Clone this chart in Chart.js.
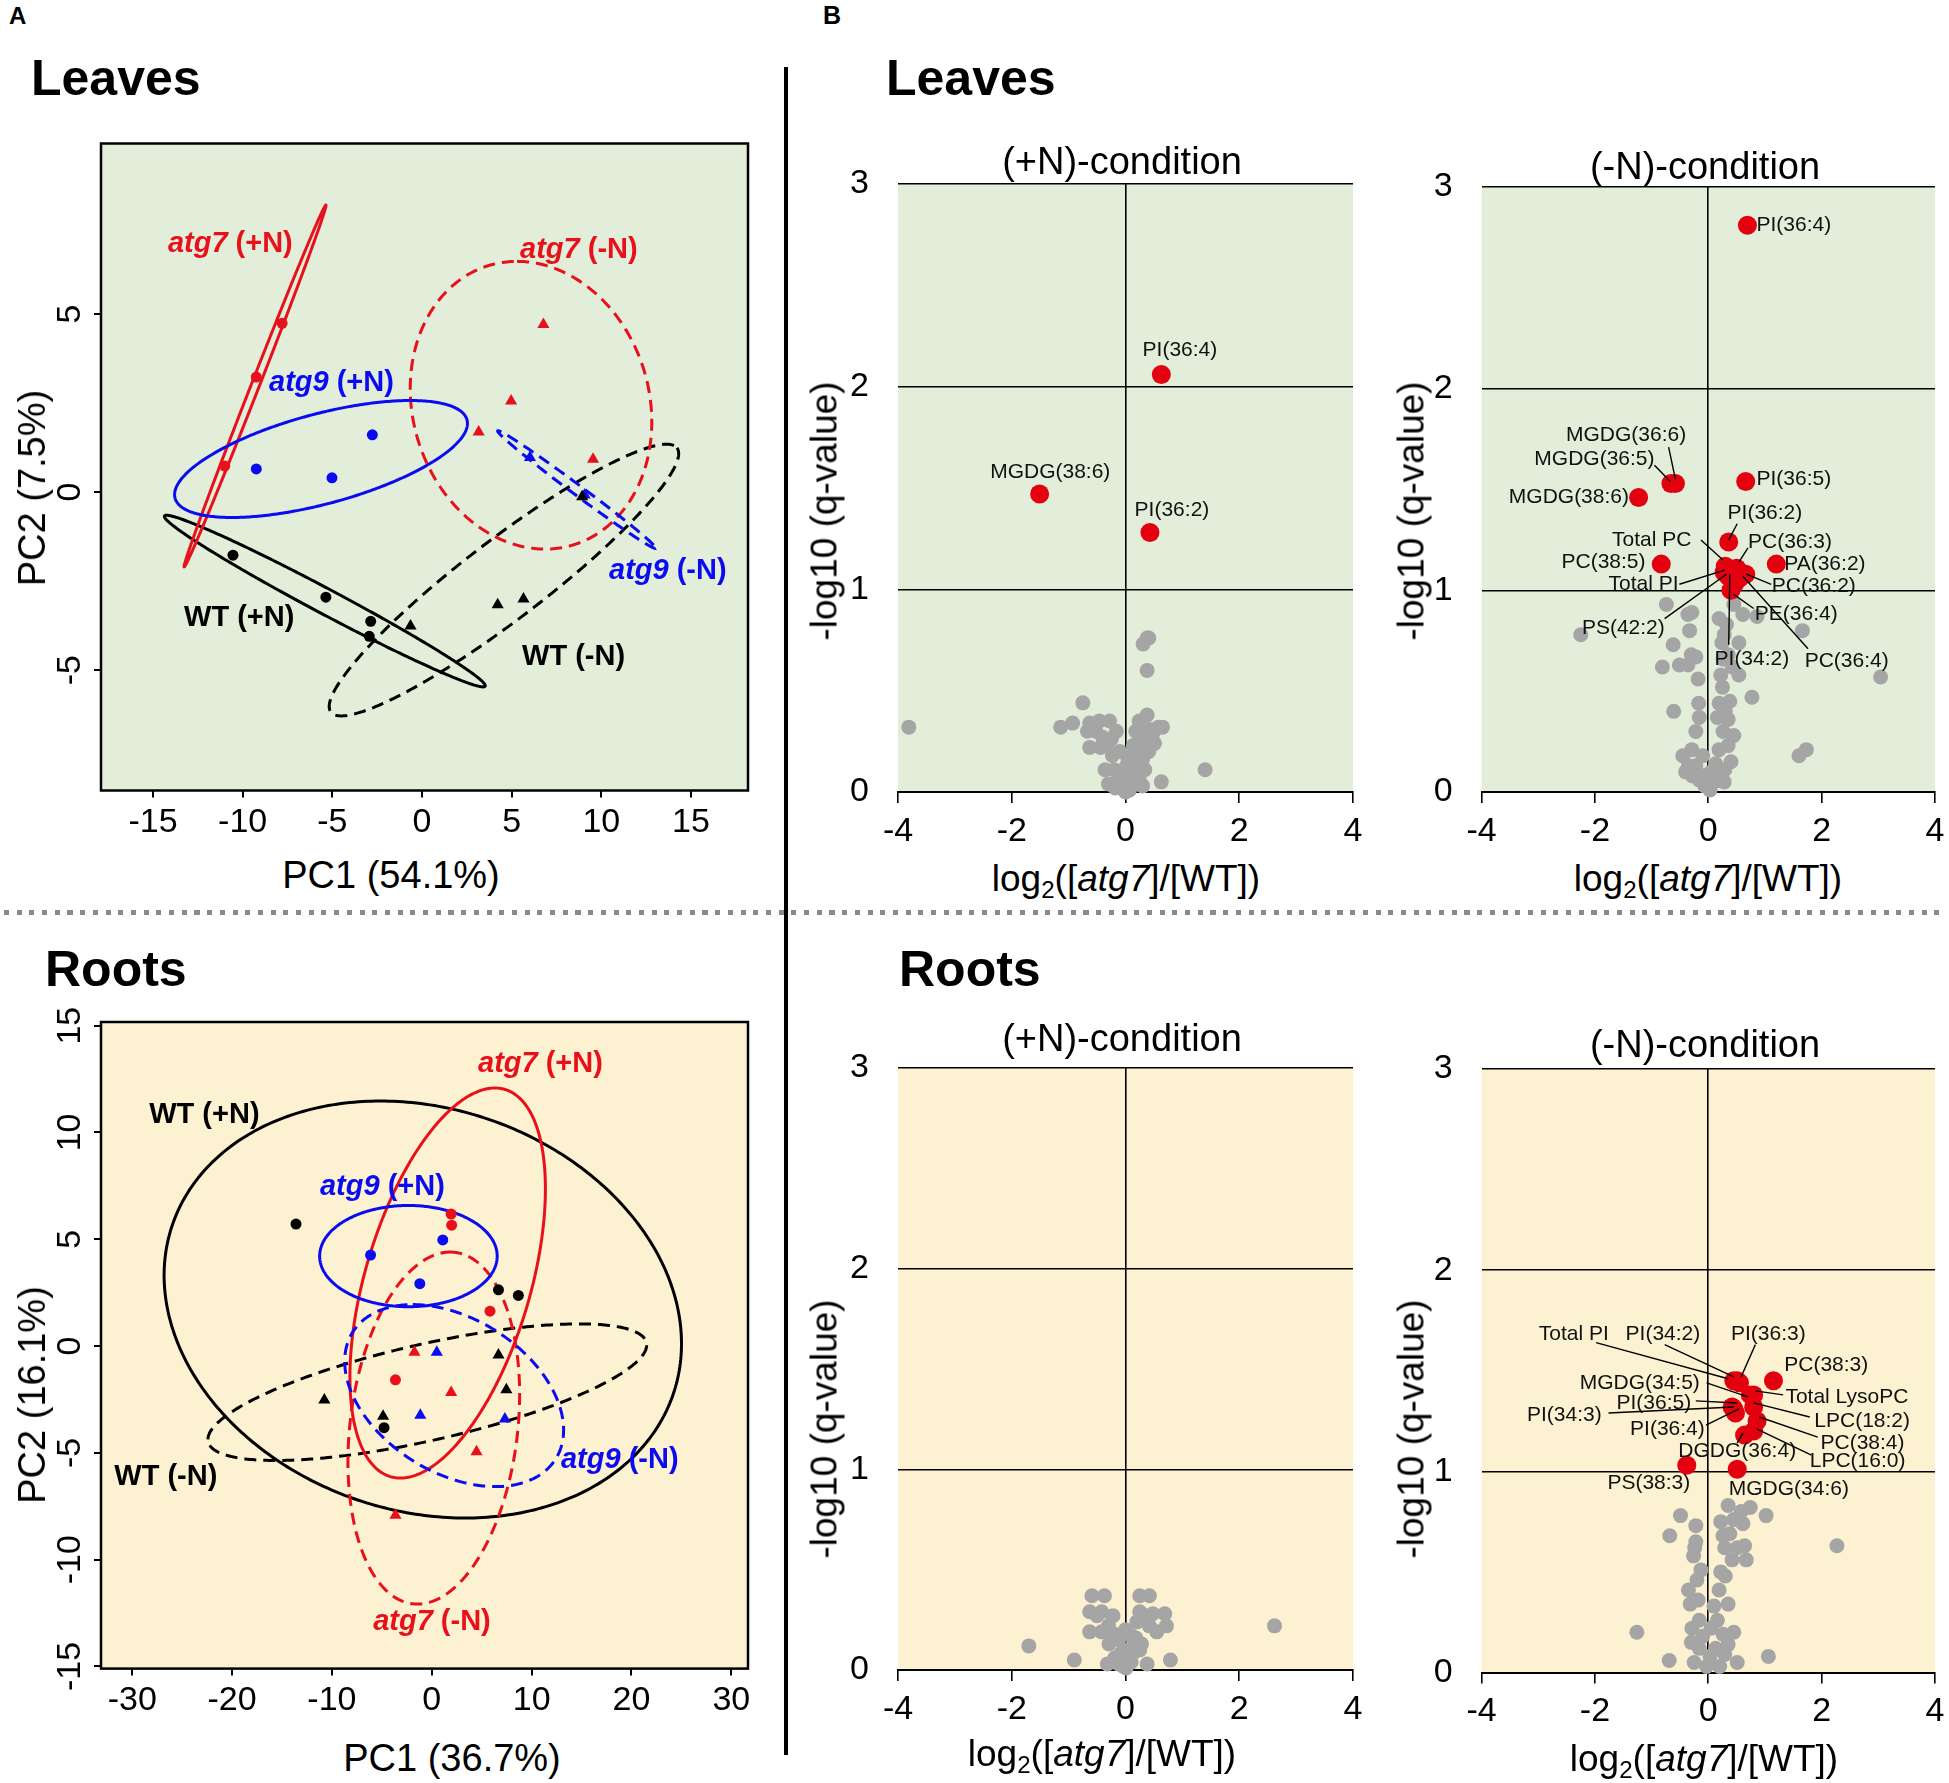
<!DOCTYPE html>
<html lang="en">
<head>
<meta charset="UTF-8">
<title>Lipid PCA and volcano plots - atg7 / atg9 / WT</title>
<script src="https://cdn.jsdelivr.net/npm/chart.js"></script>
<style>
    body { margin: 0; background: #fff; color: #000; font-family: "Liberation Sans", Arial, Helvetica, sans-serif; }
    #page { position: relative; width: 1949px; height: 1783px; overflow: hidden; background: #fff; }
    canvas { position: absolute; }
    .t { position: absolute; white-space: nowrap; line-height: 1; }
    .c { transform: translate(-50%, -50%); }
    .l { transform: translateY(-50%); }
    .r { transform: translate(-50%, -50%) rotate(-90deg); }
    .b { font-weight: bold; }
    .sep { position: absolute; left: 4px; top: 910px; width: 1938px; height: 5px;
           background: repeating-linear-gradient(to right, #8a8a8a 0 5px, transparent 5px 12.7px); }
    .vl { position: absolute; left: 784px; top: 67px; width: 3.5px; height: 1688px; background: #000; }
    .sub { font-size: 0.65em; position: relative; top: 0.3em; }
</style>
</head>
<body>
<div id="page">
    <canvas id="leafPca" width="780" height="730" style="left:0px;top:120px"></canvas>
    <canvas id="rootPca" width="780" height="730" style="left:0px;top:990px"></canvas>
    <canvas id="leafPlus" width="590" height="700" style="left:790px;top:150px"></canvas>
    <canvas id="leafMinus" width="567" height="700" style="left:1382px;top:150px"></canvas>
    <canvas id="rootPlus" width="590" height="700" style="left:790px;top:1040px"></canvas>
    <canvas id="rootMinus" width="567" height="700" style="left:1382px;top:1040px"></canvas>

    <div class="sep"></div>
    <div class="vl"></div>

    <div class="t l b" style="left:9px;top:16px;font-size:24px">A</div>
    <div class="t l b" style="left:823px;top:15px;font-size:25px">B</div>
    <div class="t l b" style="left:31px;top:78px;font-size:50px">Leaves</div>
    <div class="t l b" style="left:886px;top:78px;font-size:50px">Leaves</div>
    <div class="t l b" style="left:45px;top:969px;font-size:50px">Roots</div>
    <div class="t l b" style="left:899px;top:969px;font-size:50px">Roots</div>

    <div class="t c" style="left:391px;top:875px;font-size:38px">PC1 (54.1%)</div>
    <div class="t r" style="left:32px;top:488px;font-size:38px">PC2 (7.5%)</div>
    <div class="t c" style="left:452px;top:1758px;font-size:38px">PC1 (36.7%)</div>
    <div class="t r" style="left:32px;top:1395px;font-size:38px">PC2 (16.1%)</div>

    <div class="t c" style="left:1122px;top:161px;font-size:38px">(+N)-condition</div>
    <div class="t c" style="left:1705px;top:166px;font-size:38px">(-N)-condition</div>
    <div class="t c" style="left:1122px;top:1038px;font-size:38px">(+N)-condition</div>
    <div class="t c" style="left:1705px;top:1044px;font-size:38px">(-N)-condition</div>

    <div class="t r" style="left:824px;top:511px;font-size:37px">-log10 (q-value)</div>
    <div class="t r" style="left:1411px;top:511px;font-size:37px">-log10 (q-value)</div>
    <div class="t r" style="left:824px;top:1429px;font-size:37px">-log10 (q-value)</div>
    <div class="t r" style="left:1411px;top:1429px;font-size:37px">-log10 (q-value)</div>

    <div class="t c" style="left:1126px;top:878px;font-size:37px">log<span class="sub">2</span>([<i>atg7</i>]/[WT])</div>
    <div class="t c" style="left:1708px;top:878px;font-size:37px">log<span class="sub">2</span>([<i>atg7</i>]/[WT])</div>
    <div class="t c" style="left:1102px;top:1753px;font-size:37px">log<span class="sub">2</span>([<i>atg7</i>]/[WT])</div>
    <div class="t c" style="left:1704px;top:1758px;font-size:37px">log<span class="sub">2</span>([<i>atg7</i>]/[WT])</div>
</div>

<script>
    const FONT = '"Liberation Sans", Arial, Helvetica, sans-serif';

    // ---- PCA groups (order used by every PCA array below)
    const pcaGroups = ['WT (+N)', 'WT (-N)', 'atg7 (+N)', 'atg7 (-N)', 'atg9 (+N)', 'atg9 (-N)'];

    // Leaves PCA scores [PC1, PC2]
    const leafWTplus = [[-10.54, -1.77], [-5.36, -2.95], [-2.86, -3.63], [-2.94, -4.05]];
    const leafWTminus = [[-0.64, -3.76], [4.22, -3.16], [5.66, -3.0], [8.93, -0.13]];
    const leafAtg7plus = [[-11.0, 0.73], [-9.24, 3.23], [-7.8, 4.74]];
    const leafAtg7minus = [[6.77, 4.71], [4.97, 2.56], [3.16, 1.69], [9.54, 0.92]];
    const leafAtg9plus = [[-9.24, 0.65], [-5.02, 0.40], [-2.77, 1.61]];
    const leafAtg9minus = [[6.02, 0.97], [9.07, -0.08]];
    // confidence ellipses: [centre x, centre y, axis1 x, axis1 y, axis2 x, axis2 y]
    const leafEllipses = [
        [-5.42, -3.06, 8.94, -2.39, -0.33, -0.31],
        [4.57, -2.47, 9.65, 3.71, 1.35, -0.89],
        [-9.31, 2.98, 3.95, 5.08, 0.21, -0.04],
        [6.08, 2.44, -0.78, 4.04, 6.69, 0],
        [-5.63, 0.93, 8.14, 1.10, 0.65, -1.22],
        [8.63, 0.07, 4.41, -1.65, -0.17, -0.11]
    ];
    const leafXTicks = [-15, -10, -5, 0, 5, 10, 15];
    const leafYTicks = [-5, 0, 5];

    // Roots PCA scores [PC1, PC2]
    const rootWTplus = [[-13.6, 5.71], [6.68, 2.63], [8.67, 2.37], [-4.78, -3.82]];
    const rootWTminus = [[-10.76, -2.53], [-4.88, -3.29], [6.68, -0.42], [7.47, -2.05]];
    const rootAtg7plus = [[1.94, 6.18], [1.99, 5.66], [5.83, 1.63], [-3.64, -1.58]];
    const rootAtg7minus = [[-1.74, -0.29], [1.94, -2.18], [4.48, -4.95], [-3.64, -7.92]];
    const rootAtg9plus = [[-6.13, 4.26], [1.10, 4.97], [-1.20, 2.92]];
    const rootAtg9minus = [[0.5, -0.29], [-1.15, -3.24], [7.32, -3.42]];
    const rootEllipses = [
        [-0.90, 1.71, -4.24, 9.76, 25.56, 0],
        [-0.45, -2.16, -21.97, -2.21, 0, 2.31],
        [1.59, 2.95, 4.73, 9.13, 8.57, 0],
        [0.20, -3.84, 1.64, 8.24, 8.44, 0],
        [-2.34, 4.21, 0, 2.37, 8.89, 0],
        [2.24, -2.32, -4.14, 4.26, 10.15, 0]
    ];
    const rootXTicks = [-30, -20, -10, 0, 10, 20, 30];
    const rootYTicks = [-15, -10, -5, 0, 5, 10, 15];

    // ---- Volcano plots: x = log2(atg7/WT), y = -log10(q)
    const volXTicks = [-4, -2, 0, 2, 4];
    const volYTicks = [0, 1, 2, 3];

    const leafPlusHitNames = ['PI(36:4)', 'MGDG(38:6)', 'PI(36:2)'];
    const leafPlusHitX = [0.63, -1.51, 0.43];
    const leafPlusHitY = [2.06, 1.47, 1.28];
    const leafPlusGray = [[-3.81, 0.32], [-0.75, 0.44], [-1.14, 0.32], [-0.93, 0.34], [-0.63, 0.34], [-0.46, 0.35],
        [-0.28, 0.35], [-0.67, 0.30], [-0.16, 0.30], [-0.63, 0.22], [-0.33, 0.23], [-0.23, 0.18], [-0.36, 0.11],
        [-0.20, 0.11], [-0.30, 0.04], [-0.13, 0.06], [0, 0], [-0.03, 0.03], [0.38, 0.76], [0.41, 0.76], [0.31, 0.73],
        [0.38, 0.60], [0.38, 0.38], [0.24, 0.35], [0.41, 0.31], [0.58, 0.32], [0.65, 0.32], [0.34, 0.25], [0.51, 0.24],
        [0.24, 0.20], [0.41, 0.20], [0.21, 0.13], [0.34, 0.11], [0.14, 0.06], [0.24, 0.06], [1.40, 0.11], [0.63, 0.05],
        [0.07, 0.01], [0.11, 0.08], [0.04, 0.17], [0.14, 0.23], [-0.08, 0.10], [0.02, 0.13], [0.28, 0.28],
        [-0.40, 0.27], [-0.05, 0.05], [-0.52, 0.30], [-0.44, 0.22], [-0.25, 0.26], [-0.10, 0.20], [0.18, 0.30],
        [0.30, 0.16], [0.47, 0.28], [0.10, 0.03], [-0.18, 0.02], [0.30, 0.03]];

    const leafMinusHitNames = ['PI(36:4)', 'MGDG(36:6)', 'MGDG(36:5)', 'MGDG(38:6)', 'PI(36:5)', 'PI(36:2)',
        'Total PC', 'PC(36:3)', 'PC(38:5)', 'PA(36:2)', 'Total PI', 'PC(36:2)', 'PE(36:4)', 'PS(42:2)',
        'PI(34:2)', 'PC(36:4)'];
    const leafMinusHitX = [0.69, -0.58, -0.66, -1.23, 0.66, 0.36, 0.30, 0.50, -0.83, 1.20, 0.28, 0.66, 0.46, 0.35, 0.40, 0.55];
    const leafMinusHitY = [2.81, 1.53, 1.53, 1.46, 1.54, 1.24, 1.12, 1.11, 1.13, 1.13, 1.09, 1.08, 1.03, 1.07, 1.00, 1.06];
    const leafMinusGray = [[-2.25, 0.78], [-0.74, 0.93], [-0.36, 0.88], [-0.29, 0.89], [-0.33, 0.80], [-0.62, 0.73],
        [-0.30, 0.68], [-0.22, 0.67], [-0.81, 0.62], [-0.51, 0.63], [-0.36, 0.63], [-0.18, 0.56], [-0.61, 0.40],
        [-0.17, 0.44], [-0.16, 0.37], [-0.22, 0.30], [-0.29, 0.21], [-0.35, 0.13], [-0.22, 0.13], [-0.16, 0.06],
        [-0.06, 0.03], [0.19, 0.86], [0.28, 0.78], [0.24, 0.74], [0.35, 0.68], [0.26, 0.66], [0.54, 0.74], [0.61, 0.88],
        [0.86, 0.87], [0.54, 0.58], [0.22, 0.58], [0.77, 0.47], [0.19, 0.44], [0.38, 0.45], [0.16, 0.37], [0.35, 0.36],
        [0.26, 0.30], [0.35, 0.23], [0.19, 0.21], [0.13, 0.14], [0.29, 0.11], [0.19, 0.07], [0.03, 0.01], [1.60, 0.18],
        [1.73, 0.21], [3.04, 0.57], [1.66, 0.80], [-0.10, 0.18], [0.05, 0.10], [-0.45, 0.18], [0.40, 0.15], [0.45, 0.93],
        [-0.40, 0.10], [-0.28, 0.08], [0.10, 0.05], [0.28, 0.05], [-0.08, 0.08], [0.45, 0.28], [0.30, 0.40],
        [0.25, 0.52], [0.42, 0.62], [0.32, 0.83]];

    const rootPlusHitNames = [];
    const rootPlusHitX = [];
    const rootPlusHitY = [];
    const rootPlusGray = [[-1.70, 0.12], [-0.90, 0.05], [-0.59, 0.37], [-0.37, 0.37], [-0.63, 0.29], [-0.42, 0.29],
        [-0.22, 0.27], [-0.63, 0.19], [-0.42, 0.19], [-0.29, 0.13], [-0.19, 0.06], [-0.32, 0.03], [-0.09, 0.08],
        [0.25, 0.37], [0.42, 0.37], [0.25, 0.29], [0.69, 0.28], [0.42, 0.22], [0.72, 0.22], [0.55, 0.19], [0.11, 0.17],
        [0.28, 0.13], [0.15, 0.09], [0.25, 0.10], [0.38, 0.03], [0.79, 0.05], [2.62, 0.22], [0.01, 0.01], [-0.02, 0.05],
        [0.05, 0.10], [-0.12, 0.15], [0.0, 0.20], [0.20, 0.24], [-0.05, 0.02], [-0.50, 0.27], [-0.30, 0.22],
        [-0.20, 0.18], [0.35, 0.27], [0.48, 0.28], [0.10, 0.04], [-0.12, 0.03], [0.18, 0.16]];

    const rootMinusHitNames = ['Total PI', 'PI(34:2)', 'PI(36:3)', 'PC(38:3)', 'MGDG(34:5)', 'Total LysoPC',
        'PI(36:5)', 'PI(34:3)', 'LPC(18:2)', 'PI(36:4)', 'PC(38:4)', 'DGDG(36:4)', 'LPC(16:0)', 'PS(38:3)', 'MGDG(34:6)'];
    const rootMinusHitX = [0.45, 0.51, 0.55, 1.15, 0.74, 0.80, 0.42, 0.45, 0.80, 0.48, 0.86, 0.64, 0.80, -0.38, 0.51];
    const rootMinusHitY = [1.45, 1.45, 1.44, 1.45, 1.38, 1.38, 1.32, 1.31, 1.32, 1.29, 1.25, 1.18, 1.20, 1.03, 1.01];
    const rootMinusGray = [[-0.49, 0.78], [-0.22, 0.73], [-0.22, 0.65], [-0.68, 0.68], [0.35, 0.83], [0.58, 0.80],
        [0.74, 0.82], [1.02, 0.78], [0.22, 0.75], [0.45, 0.76], [0.61, 0.74], [0.26, 0.68], [0.38, 0.69], [0.29, 0.62],
        [0.51, 0.62], [0.64, 0.63], [0.67, 0.56], [-0.26, 0.58], [-0.13, 0.51], [0.22, 0.50], [0.19, 0.41], [0.35, 0.34],
        [-0.35, 0.41], [-0.32, 0.34], [-0.16, 0.26], [-0.29, 0.22], [2.27, 0.63], [-1.26, 0.20], [-0.69, 0.06],
        [0.45, 0.20], [0.51, 0.05], [1.06, 0.08], [0.16, 0.26], [0.26, 0.19], [0.13, 0.12], [0.29, 0.09], [-0.16, 0.12],
        [-0.03, 0.03], [0.03, 0.08], [-0.10, 0.18], [0.10, 0.33], [-0.20, 0.46], [-0.25, 0.05], [0.20, 0.03],
        [-0.30, 0.15], [0.35, 0.14], [0.05, 0.22], [-0.18, 0.36], [0.30, 0.48], [0.42, 0.56], [-0.24, 0.62]];

    // ---- label layout (text anchor and leader line, in axis units)
    const leafPcaLabelAt = [[-13.27, -3.54], [5.58, -4.63], [-14.17, 6.97], [5.47, 6.80], [-8.53, 3.06], [10.43, -2.22]];
    const rootPcaLabelAt = [[-28.3, 10.81], [-31.8, -6.13], [4.63, 13.20], [-5.87, -12.92], [-11.2, 7.44], [12.94, -5.34]];

    const leafPlusLabelAt = [[0.30, 2.18], [-2.38, 1.58], [0.16, 1.39]];
    const leafMinusLabelAt = [
        [0.85, 2.81], [-2.51, 1.77, -0.70, 1.71, -0.58, 1.55], [-3.07, 1.65, -0.95, 1.62, -0.67, 1.54],
        [-3.52, 1.46], [0.85, 1.55], [0.34, 1.38, 0.51, 1.33, 0.36, 1.25],
        [-1.70, 1.25, -0.13, 1.25, 0.26, 1.15], [0.70, 1.24, 0.70, 1.21, 0.54, 1.14], [-2.59, 1.14],
        [1.34, 1.13], [-1.76, 1.03, -0.51, 1.03, 0.29, 1.10], [1.12, 1.02, 1.11, 1.03, 0.67, 1.08],
        [0.82, 0.88, 0.80, 0.91, 0.45, 0.98], [-2.23, 0.81, -0.77, 0.86, 0.32, 1.08],
        [0.11, 0.66, 0.36, 0.73, 0.38, 1.08], [1.70, 0.65, 1.76, 0.71, 0.61, 1.07]];
    const rootPlusLabelAt = [];
    const rootMinusLabelAt = [
        [-2.99, 1.68, -1.98, 1.64, 0.35, 1.46], [-1.46, 1.68, -0.77, 1.63, 0.45, 1.47],
        [0.40, 1.68, 0.83, 1.63, 0.58, 1.47], [1.34, 1.53], [-2.27, 1.44, -0.03, 1.44, 0.70, 1.37],
        [1.36, 1.37, 1.32, 1.38, 0.83, 1.40], [-1.62, 1.34, -0.22, 1.35, 0.51, 1.34],
        [-3.20, 1.28, -1.76, 1.29, 0.45, 1.32], [1.87, 1.25, 1.79, 1.27, 0.80, 1.34],
        [-1.38, 1.21, -0.04, 1.23, 0.54, 1.31], [1.98, 1.14, 1.93, 1.17, 0.90, 1.27],
        [-0.53, 1.10, 0.51, 1.14, 0.61, 1.19], [1.79, 1.05, 1.82, 1.08, 0.86, 1.21],
        [-1.78, 0.94], [0.36, 0.91]];

    // ---- styles
    const RED = '#e8101a';
    const BLUE = '#0b0bf2';
    const HIT = '#e3000f';
    const GREY = '#a5a5a5';
    const LEAF_BG = '#e2eed9';
    const ROOT_BG = '#fcf1d0';
    const groupColor = ['#000', '#000', RED, RED, BLUE, BLUE];
    const groupMarker = ['circle', 'triangle', 'circle', 'triangle', 'circle', 'triangle'];
    const groupDash = [[], [12, 7], [], [12, 7], [], [12, 7]];

    function pcaChart(id, groups, ellipses, labelAt, xr, yr, xTicks, yTicks, bg, box) {
        const datasets = groups.map((g, i) => ({
            data: g.map(p => ({ x: p[0], y: p[1] })),
            pointStyle: groupMarker[i],
            pointRadius: groupMarker[i] === 'circle' ? 5.5 : 7,
            backgroundColor: groupColor[i],
            borderColor: groupColor[i],
            borderWidth: 0,
            clip: false
        }));

        const deco = {
            id: 'pcaDeco',
            beforeDraw(chart) {
                const a = chart.chartArea, ctx = chart.ctx;
                ctx.save();
                ctx.fillStyle = bg;
                ctx.fillRect(a.left, a.top, a.right - a.left, a.bottom - a.top);
                ctx.restore();
            },
            beforeDatasetsDraw(chart) {
                const ctx = chart.ctx, sx = chart.scales.x, sy = chart.scales.y;
                ellipses.forEach((e, i) => {
                    ctx.save();
                    ctx.strokeStyle = groupColor[i];
                    ctx.lineWidth = 3;
                    ctx.setLineDash(groupDash[i]);
                    ctx.beginPath();
                    for (let k = 0; k <= 360; k++) {
                        const t = k / 360 * Math.PI * 2;
                        const px = sx.getPixelForValue(e[0] + e[2] * Math.cos(t) + e[4] * Math.sin(t));
                        const py = sy.getPixelForValue(e[1] + e[3] * Math.cos(t) + e[5] * Math.sin(t));
                        if (k === 0) ctx.moveTo(px, py); else ctx.lineTo(px, py);
                    }
                    ctx.closePath();
                    ctx.stroke();
                    ctx.restore();
                });
            },
            afterDraw(chart) {
                const a = chart.chartArea, ctx = chart.ctx, sx = chart.scales.x, sy = chart.scales.y;
                ctx.save();
                ctx.strokeStyle = '#000';
                ctx.lineWidth = 2.5;
                ctx.strokeRect(a.left, a.top, a.right - a.left, a.bottom - a.top);
                // rotated y tick labels (R style)
                ctx.fillStyle = '#000';
                ctx.font = '34px ' + FONT;
                ctx.textAlign = 'center';
                ctx.textBaseline = 'middle';
                yTicks.forEach(v => {
                    ctx.save();
                    ctx.translate(a.left - 30, sy.getPixelForValue(v));
                    ctx.rotate(-Math.PI / 2);
                    ctx.fillText(String(v), 0, 0);
                    ctx.restore();
                });
                // group labels
                ctx.textAlign = 'left';
                pcaGroups.forEach((name, i) => {
                    const x = sx.getPixelForValue(labelAt[i][0]);
                    const y = sy.getPixelForValue(labelAt[i][1]);
                    const parts = name.split(' ');
                    let cx = x;
                    ctx.fillStyle = groupColor[i];
                    if (parts[0] !== 'WT') {
                        ctx.font = 'italic bold 29px ' + FONT;
                        ctx.fillText(parts[0], cx, y);
                        cx += ctx.measureText(parts[0]).width;
                        ctx.font = 'bold 29px ' + FONT;
                        ctx.fillText(' ' + parts[1], cx, y);
                    } else {
                        ctx.font = 'bold 29px ' + FONT;
                        ctx.fillText(name, cx, y);
                    }
                });
                ctx.restore();
            }
        };

        return new Chart(document.getElementById(id), {
            type: 'scatter',
            data: { datasets },
            options: {
                responsive: false,
                animation: false,
                events: [],
                layout: { padding: { top: box.top, right: box.right, left: 0, bottom: 0 } },
                plugins: { legend: { display: false }, tooltip: { enabled: false } },
                scales: {
                    x: {
                        type: 'linear', min: xr[0], max: xr[1],
                        afterBuildTicks: s => { s.ticks = xTicks.map(v => ({ value: v })); },
                        afterFit: s => { s.height = box.xh; s.paddingLeft = 0; s.paddingRight = 0; },
                        ticks: { font: { family: FONT, size: 34 }, color: '#000', padding: 5, maxRotation: 0, autoSkip: false },
                        grid: { drawOnChartArea: false, tickLength: 7, color: '#000', lineWidth: 2 },
                        border: { display: false }
                    },
                    y: {
                        type: 'linear', min: yr[0], max: yr[1],
                        afterBuildTicks: s => { s.ticks = yTicks.map(v => ({ value: v })); },
                        afterFit: s => { s.width = box.yw; s.paddingTop = 0; s.paddingBottom = 0; },
                        ticks: { display: false },
                        grid: { drawOnChartArea: false, tickLength: 7, color: '#000', lineWidth: 2 },
                        border: { display: false }
                    }
                }
            },
            plugins: [deco]
        });
    }

    function volcanoChart(id, names, hx, hy, gray, labelAt, bg, box) {
        const deco = {
            id: 'volDeco',
            beforeDraw(chart) {
                const a = chart.chartArea, ctx = chart.ctx;
                ctx.save();
                ctx.fillStyle = bg;
                ctx.fillRect(a.left, a.top, a.right - a.left, a.bottom - a.top);
                ctx.restore();
            },
            afterDatasetsDraw(chart) {
                const ctx = chart.ctx, sx = chart.scales.x, sy = chart.scales.y;
                ctx.save();
                ctx.strokeStyle = '#000';
                ctx.lineWidth = 1.4;
                ctx.fillStyle = '#111';
                ctx.font = '21px ' + FONT;
                ctx.textAlign = 'left';
                ctx.textBaseline = 'middle';
                names.forEach((n, i) => {
                    const p = labelAt[i];
                    if (!p) return;
                    if (p.length === 6) {
                        ctx.beginPath();
                        ctx.moveTo(sx.getPixelForValue(p[2]), sy.getPixelForValue(p[3]));
                        ctx.lineTo(sx.getPixelForValue(p[4]), sy.getPixelForValue(p[5]));
                        ctx.stroke();
                    }
                    ctx.fillText(n, sx.getPixelForValue(p[0]), sy.getPixelForValue(p[1]));
                });
                ctx.restore();
            }
        };

        return new Chart(document.getElementById(id), {
            type: 'scatter',
            data: {
                datasets: [
                    { data: names.map((n, i) => ({ x: hx[i], y: hy[i] })), pointRadius: 9.5, backgroundColor: HIT, borderWidth: 0, clip: false },
                    { data: gray.map(p => ({ x: p[0], y: p[1] })), pointRadius: 7.5, backgroundColor: GREY, borderWidth: 0, clip: false }
                ]
            },
            options: {
                responsive: false,
                animation: false,
                events: [],
                layout: { padding: { top: box.top, right: box.right, left: 0, bottom: 0 } },
                plugins: { legend: { display: false }, tooltip: { enabled: false } },
                scales: {
                    x: {
                        type: 'linear', min: -4, max: 4,
                        afterBuildTicks: s => { s.ticks = volXTicks.map(v => ({ value: v })); },
                        afterFit: s => { s.height = box.xh; s.paddingLeft = 0; s.paddingRight = 0; },
                        ticks: { font: { family: FONT, size: 34 }, color: '#000', padding: 8, maxRotation: 0, autoSkip: false },
                        grid: {
                            color: c => (c.tick && c.tick.value === 0 ? '#000' : 'rgba(0,0,0,0)'),
                            tickColor: '#000', tickLength: 11, lineWidth: 1.6
                        },
                        border: { display: true, color: '#000', width: 2 }
                    },
                    y: {
                        type: 'linear', min: 0, max: 3,
                        afterBuildTicks: s => { s.ticks = volYTicks.map(v => ({ value: v })); },
                        afterFit: s => { s.width = box.yw; s.paddingTop = 0; s.paddingBottom = 0; },
                        ticks: { font: { family: FONT, size: 34 }, color: '#000', padding: 29 },
                        grid: {
                            color: c => (c.tick && c.tick.value > 0 ? '#000' : 'rgba(0,0,0,0)'),
                            drawTicks: false, lineWidth: 1.6
                        },
                        border: { display: false }
                    }
                }
            },
            plugins: [deco]
        });
    }

    pcaChart('leafPca',
        [leafWTplus, leafWTminus, leafAtg7plus, leafAtg7minus, leafAtg9plus, leafAtg9minus],
        leafEllipses, leafPcaLabelAt, [-17.90, 18.18], [-8.38, 9.79], leafXTicks, leafYTicks, LEAF_BG,
        { top: 23.5, right: 32, yw: 101, xh: 59.5 });

    pcaChart('rootPca',
        [rootWTplus, rootWTminus, rootAtg7plus, rootAtg7minus, rootAtg9plus, rootAtg9minus],
        rootEllipses, rootPcaLabelAt, [-33.13, 31.67], [-15.1, 15.17], rootXTicks, rootYTicks, ROOT_BG,
        { top: 32, right: 32, yw: 101, xh: 51.4 });

    volcanoChart('leafPlus', leafPlusHitNames, leafPlusHitX, leafPlusHitY, leafPlusGray, leafPlusLabelAt, LEAF_BG,
        { top: 34, right: 27, yw: 108, xh: 58 });
    volcanoChart('leafMinus', leafMinusHitNames, leafMinusHitX, leafMinusHitY, leafMinusGray, leafMinusLabelAt, LEAF_BG,
        { top: 37, right: 14, yw: 99.6, xh: 58 });
    volcanoChart('rootPlus', rootPlusHitNames, rootPlusHitX, rootPlusHitY, rootPlusGray, rootPlusLabelAt, ROOT_BG,
        { top: 28, right: 27, yw: 108, xh: 70 });
    volcanoChart('rootMinus', rootMinusHitNames, rootMinusHitX, rootMinusHitY, rootMinusGray, rootMinusLabelAt, ROOT_BG,
        { top: 29, right: 14, yw: 99.6, xh: 67.5 });
</script>
</body>
</html>
